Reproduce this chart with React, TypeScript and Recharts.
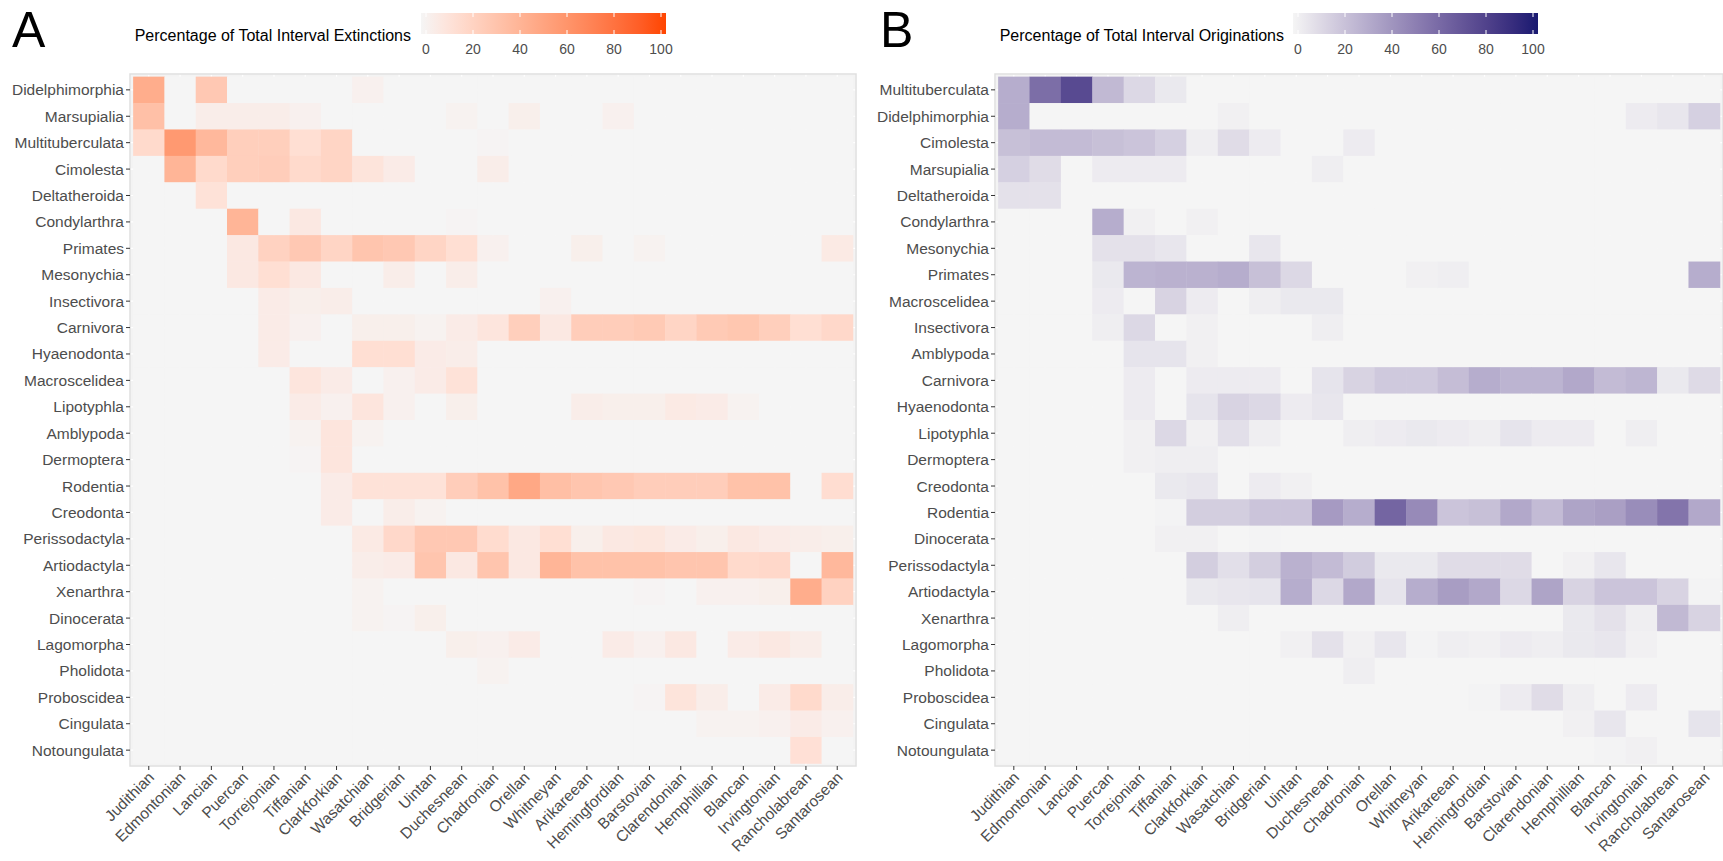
import React from 'react';
import { ScatterChart, Scatter, XAxis, YAxis, CartesianGrid, ReferenceArea } from 'recharts';

const intervals = [
  'Judithian', 'Edmontonian', 'Lancian', 'Puercan', 'Torrejonian', 'Tiffanian', 'Clarkforkian',
  'Wasatchian', 'Bridgerian', 'Uintan', 'Duchesnean', 'Chadronian', 'Orellan', 'Whitneyan',
  'Arikareean', 'Hemingfordian', 'Barstovian', 'Clarendonian', 'Hemphillian', 'Blancan',
  'Irvingtonian', 'Rancholabrean', 'Santarosean',
];

const ordersA = [
  'Didelphimorphia', 'Marsupialia', 'Multituberculata', 'Cimolesta', 'Deltatheroida', 'Condylarthra',
  'Primates', 'Mesonychia', 'Insectivora', 'Carnivora', 'Hyaenodonta', 'Macroscelidea', 'Lipotyphla',
  'Amblypoda', 'Dermoptera', 'Rodentia', 'Creodonta', 'Perissodactyla', 'Artiodactyla', 'Xenarthra',
  'Dinocerata', 'Lagomorpha', 'Pholidota', 'Proboscidea', 'Cingulata', 'Notoungulata',
];

const ordersB = [
  'Multituberculata', 'Didelphimorphia', 'Cimolesta', 'Marsupialia', 'Deltatheroida', 'Condylarthra',
  'Mesonychia', 'Primates', 'Macroscelidea', 'Insectivora', 'Amblypoda', 'Carnivora', 'Hyaenodonta',
  'Lipotyphla', 'Dermoptera', 'Creodonta', 'Rodentia', 'Dinocerata', 'Perissodactyla', 'Artiodactyla',
  'Xenarthra', 'Lagomorpha', 'Pholidota', 'Proboscidea', 'Cingulata', 'Notoungulata',
];

const legendTicks = [0, 20, 40, 60, 80, 100];

// % of total interval extinctions, one row per order (ordersA), one column per interval
const extinctions: number[][] = [
  [45, 0, 28, 0, 0, 0, 0, 3, 0, 0, 0, 0, 0, 0, 0, 0, 0, 0, 0, 0, 0, 0, 0],
  [33, 0, 5, 5, 5, 3, 0, 0, 0, 0, 2, 0, 4, 0, 0, 3, 0, 0, 0, 0, 0, 0, 0],
  [17, 57, 38, 24, 24, 14, 20, 0, 0, 0, 0, 1, 0, 0, 0, 0, 0, 0, 0, 0, 0, 0, 0],
  [0, 40, 17, 24, 25, 17, 20, 11, 6, 0, 0, 5, 0, 0, 0, 0, 0, 0, 0, 0, 0, 0, 0],
  [0, 0, 12, 0, 0, 0, 0, 0, 0, 0, 0, 0, 0, 0, 0, 0, 0, 0, 0, 0, 0, 0, 0],
  [0, 0, 0, 40, 0, 8, 0, 0, 0, 0, 1, 0, 0, 0, 0, 0, 0, 0, 0, 0, 0, 0, 0],
  [0, 0, 0, 8, 22, 28, 20, 30, 28, 20, 14, 3, 0, 0, 4, 0, 2, 0, 0, 0, 0, 0, 7],
  [0, 0, 0, 8, 14, 8, 0, 0, 5, 0, 5, 0, 0, 0, 0, 0, 0, 0, 0, 0, 0, 0, 0],
  [0, 0, 0, 0, 6, 4, 5, 0, 0, 0, 0, 0, 0, 3, 0, 0, 0, 0, 0, 0, 0, 0, 0],
  [0, 0, 0, 0, 6, 3, 0, 4, 4, 2, 6, 10, 24, 8, 25, 25, 27, 20, 27, 29, 24, 14, 18],
  [0, 0, 0, 0, 6, 0, 0, 14, 14, 6, 5, 0, 0, 0, 0, 0, 0, 0, 0, 0, 0, 0, 0],
  [0, 0, 0, 0, 0, 10, 6, 0, 3, 6, 12, 0, 0, 0, 0, 0, 0, 0, 0, 0, 0, 0, 0],
  [0, 0, 0, 0, 0, 6, 3, 10, 3, 0, 4, 0, 0, 0, 5, 4, 4, 7, 6, 2, 0, 0, 0],
  [0, 0, 0, 0, 0, 2, 10, 2, 0, 0, 0, 0, 0, 0, 0, 0, 0, 0, 0, 0, 0, 0, 0],
  [0, 0, 0, 0, 0, 1, 10, 0, 0, 0, 0, 0, 0, 0, 0, 0, 0, 0, 0, 0, 0, 0, 0],
  [0, 0, 0, 0, 0, 0, 6, 12, 12, 12, 25, 32, 48, 34, 30, 28, 25, 25, 25, 32, 32, 0, 15],
  [0, 0, 0, 0, 0, 0, 6, 0, 5, 2, 0, 0, 0, 0, 0, 0, 0, 0, 0, 0, 0, 0, 0],
  [0, 0, 0, 0, 0, 0, 0, 7, 18, 28, 28, 16, 8, 14, 4, 8, 9, 6, 4, 8, 6, 5, 4],
  [0, 0, 0, 0, 0, 0, 0, 5, 6, 30, 8, 30, 8, 40, 32, 32, 32, 30, 30, 17, 18, 0, 38],
  [0, 0, 0, 0, 0, 0, 0, 2, 0, 0, 0, 0, 0, 0, 0, 0, 1, 0, 3, 3, 4, 45, 22],
  [0, 0, 0, 0, 0, 0, 0, 2, 1, 4, 0, 0, 0, 0, 0, 0, 0, 0, 0, 0, 0, 0, 0],
  [0, 0, 0, 0, 0, 0, 0, 0, 0, 0, 4, 3, 6, 0, 0, 6, 3, 8, 0, 6, 8, 5, 0],
  [0, 0, 0, 0, 0, 0, 0, 0, 0, 0, 0, 2, 0, 0, 0, 0, 0, 0, 0, 0, 0, 0, 0],
  [0, 0, 0, 0, 0, 0, 0, 0, 0, 0, 0, 0, 0, 0, 0, 0, 1, 11, 5, 0, 6, 17, 5],
  [0, 0, 0, 0, 0, 0, 0, 0, 0, 0, 0, 0, 0, 0, 0, 0, 0, 0, 2, 2, 3, 6, 3],
  [0, 0, 0, 0, 0, 0, 0, 0, 0, 0, 0, 0, 0, 0, 0, 0, 0, 0, 0, 0, 0, 13, 0],
];

// % of total interval originations, one row per order (ordersB)
const originations: number[][] = [
  [30, 58, 75, 25, 12, 5, 0, 0, 0, 0, 0, 0, 0, 0, 0, 0, 0, 0, 0, 0, 0, 0, 0],
  [30, 0, 0, 0, 0, 0, 0, 2, 0, 0, 0, 0, 0, 0, 0, 0, 0, 0, 0, 0, 4, 6, 15],
  [22, 24, 24, 22, 20, 15, 3, 10, 4, 0, 0, 4, 0, 0, 0, 0, 0, 0, 0, 0, 0, 0, 0],
  [15, 10, 0, 4, 4, 4, 0, 0, 0, 0, 3, 0, 0, 0, 0, 0, 0, 0, 0, 0, 0, 0, 0],
  [8, 8, 0, 0, 0, 0, 0, 0, 0, 0, 0, 0, 0, 0, 0, 0, 0, 0, 0, 0, 0, 0, 0],
  [0, 0, 0, 30, 2, 0, 2, 0, 0, 0, 0, 0, 0, 0, 0, 0, 0, 0, 0, 0, 0, 0, 0],
  [0, 0, 0, 8, 8, 6, 0, 0, 6, 0, 0, 0, 0, 0, 0, 0, 0, 0, 0, 0, 0, 0, 0],
  [0, 0, 0, 5, 27, 28, 28, 30, 22, 12, 0, 0, 0, 2, 3, 0, 0, 0, 0, 0, 0, 0, 30],
  [0, 0, 0, 4, 0, 14, 4, 0, 3, 5, 5, 0, 0, 0, 0, 0, 0, 0, 0, 0, 0, 0, 0],
  [0, 0, 0, 3, 12, 0, 2, 0, 0, 0, 3, 0, 0, 0, 0, 0, 0, 0, 0, 0, 0, 0, 0],
  [0, 0, 0, 0, 7, 7, 2, 0, 0, 0, 0, 0, 0, 0, 0, 0, 0, 0, 0, 0, 0, 0, 0],
  [0, 0, 0, 0, 4, 0, 4, 4, 4, 0, 7, 14, 18, 18, 23, 30, 27, 27, 32, 24, 26, 5, 11],
  [0, 0, 0, 0, 4, 0, 7, 14, 12, 4, 6, 0, 0, 0, 0, 0, 0, 0, 0, 0, 0, 0, 0],
  [0, 0, 0, 0, 2, 12, 2, 9, 3, 0, 0, 3, 4, 5, 4, 3, 7, 4, 4, 0, 3, 0, 0],
  [0, 0, 0, 0, 2, 3, 3, 0, 0, 0, 0, 0, 0, 0, 0, 0, 0, 0, 0, 0, 0, 0, 0],
  [0, 0, 0, 0, 0, 5, 6, 0, 4, 2, 0, 0, 0, 0, 0, 0, 0, 0, 0, 0, 0, 0, 0],
  [0, 0, 0, 0, 0, 1, 16, 16, 20, 20, 38, 30, 62, 45, 20, 22, 32, 24, 34, 36, 44, 55, 32],
  [0, 0, 0, 0, 0, 2, 2, 0, 1, 0, 0, 0, 0, 0, 0, 0, 0, 0, 0, 0, 0, 0, 0],
  [0, 0, 0, 0, 0, 0, 16, 9, 16, 28, 24, 17, 5, 5, 10, 10, 10, 0, 2, 6, 0, 0, 0],
  [0, 0, 0, 0, 0, 0, 5, 6, 7, 30, 12, 32, 7, 30, 37, 32, 12, 34, 14, 20, 20, 14, 1],
  [0, 0, 0, 0, 0, 0, 0, 3, 0, 0, 0, 0, 0, 0, 0, 0, 0, 0, 5, 8, 3, 25, 14],
  [0, 0, 0, 0, 0, 0, 0, 0, 0, 2, 8, 2, 6, 1, 3, 2, 4, 3, 5, 6, 2, 0, 0],
  [0, 0, 0, 0, 0, 0, 0, 0, 0, 0, 0, 3, 0, 0, 0, 0, 0, 0, 0, 0, 0, 0, 0],
  [0, 0, 0, 0, 0, 0, 0, 0, 0, 0, 0, 0, 0, 0, 0, 1, 4, 10, 3, 0, 4, 0, 0],
  [0, 0, 0, 0, 0, 0, 0, 0, 0, 0, 0, 0, 0, 0, 0, 0, 0, 0, 2, 6, 0, 0, 7],
  [0, 0, 0, 0, 0, 0, 0, 0, 0, 0, 0, 0, 0, 0, 0, 0, 0, 0, 0, 1, 2, 0, 0],
];

const LOW = '#F5F5F5';
const FONT = '"Liberation Sans", Arial, sans-serif';
const TEXT = '#4D4D4D';

// --- colour helpers: interpolate in Lab like ggplot's scale_fill_gradient ---
const toLin = (c: number) => (c <= 0.04045 ? c / 12.92 : Math.pow((c + 0.055) / 1.055, 2.4));
const toSrgb = (c: number) => (c <= 0.0031308 ? 12.92 * c : 1.055 * Math.pow(c, 1 / 2.4) - 0.055);

function hexToLab(hex: string) {
  const n = parseInt(hex.slice(1), 16);
  const r = toLin(((n >> 16) & 255) / 255), g = toLin(((n >> 8) & 255) / 255), b = toLin((n & 255) / 255);
  const X = (0.4124 * r + 0.3576 * g + 0.1805 * b) / 0.95047;
  const Y = 0.2126 * r + 0.7152 * g + 0.0722 * b;
  const Z = (0.0193 * r + 0.1192 * g + 0.9505 * b) / 1.08883;
  const f = (t: number) => (t > 0.008856 ? Math.cbrt(t) : 7.787 * t + 16 / 116);
  const fx = f(X), fy = f(Y), fz = f(Z);
  return [116 * fy - 16, 500 * (fx - fy), 200 * (fy - fz)];
}

function labToHex([L, a, bb]: number[]) {
  const fy = (L + 16) / 116, fx = fy + a / 500, fz = fy - bb / 200;
  const inv = (f: number) => (f * f * f > 0.008856 ? f * f * f : (f - 16 / 116) / 7.787);
  const X = inv(fx) * 0.95047, Y = inv(fy), Z = inv(fz) * 1.08883;
  const rgb = [
    3.2406 * X - 1.5372 * Y - 0.4986 * Z,
    -0.9689 * X + 1.8758 * Y + 0.0415 * Z,
    0.0557 * X - 0.204 * Y + 1.057 * Z,
  ].map(c => Math.round(Math.min(1, Math.max(0, toSrgb(c))) * 255));
  return '#' + rgb.map(c => c.toString(16).padStart(2, '0')).join('');
}

function makeScale(high: string) {
  const lo = hexToLab(LOW), hi = hexToLab(high);
  return (v: number) => {
    const t = Math.min(1, Math.max(0, v / 100));
    return labToHex(lo.map((c, i) => c + (hi[i] - c) * t));
  };
}

const CHART_H = 861;
const M_TOP = 74;
const X_H = 95;
const Y_W = 130;

function Heatmap({ orders, values, high, width, right }: {
  orders: string[]; values: number[][]; high: string; width: number; right: number;
}) {
  const colour = makeScale(high);
  const data = values.flatMap((row, i) => row.map((v, j) => ({ x: j, y: i, v })));
  const cw = (width - Y_W - right) / (intervals.length - 1 + 1.2);
  const ch = (CHART_H - M_TOP - X_H) / (orders.length - 1 + 1.2);

  const XTick = ({ x, y, payload }: any) => (
    <g transform={`translate(${x},${y})`}>
      <text x={0} y={0} dy={9} textAnchor="end" transform="rotate(-45)" fill={TEXT}
        fontSize={15.5} fontFamily={FONT}>
        {intervals[payload.value]}
      </text>
    </g>
  );

  return (
    <ScatterChart width={width} height={CHART_H} margin={{ top: M_TOP, right, bottom: 0, left: 0 }}>
      <CartesianGrid fill="#F3F3F3" fillOpacity={1} stroke="#FFFFFF" strokeWidth={1.2} />
      <XAxis type="number" dataKey="x" domain={[-0.6, intervals.length - 0.4]} allowDataOverflow
        ticks={intervals.map((_, i) => i)} interval={0} height={X_H} axisLine={false}
        tickSize={4} tickLine={{ stroke: '#333333' }} tick={<XTick />} />
      <YAxis type="number" dataKey="y" domain={[-0.6, orders.length - 0.4]} allowDataOverflow reversed
        ticks={orders.map((_, i) => i)} interval={0} width={Y_W} axisLine={false}
        tickSize={4} tickLine={{ stroke: '#333333' }}
        tickFormatter={(i: number) => orders[i]}
        tick={{ fill: TEXT, fontSize: 15.5, fontFamily: FONT }} />
      <Scatter data={data} isAnimationActive={false}
        shape={(p: any) => (
          <rect x={p.cx - cw / 2} y={p.cy - ch / 2} width={cw + 0.4} height={ch + 0.4}
            fill={colour(p.payload.v)} />
        )} />
      <ReferenceArea x1={-0.6} x2={intervals.length - 0.4} y1={-0.6} y2={orders.length - 0.4}
        fill="none" stroke="#E0E0E0" strokeWidth={1.5} ifOverflow="visible" />
    </ScatterChart>
  );
}

function ColourLegend({ title, high, titleEnd, barX, id }: {
  title: string; high: string; titleEnd: number; barX: number; id: string;
}) {
  const colour = makeScale(high);
  const barW = 245;
  const stops = Array.from({ length: 11 }, (_, k) => k * 10);
  const pos = (v: number) => barX + 5 + (v / 100) * (barW - 10);
  return (
    <g fontFamily={FONT}>
      <defs>
        <linearGradient id={id} x1="0" x2="1" y1="0" y2="0">
          {stops.map(s => <stop key={s} offset={`${s}%`} stopColor={colour(s)} />)}
        </linearGradient>
      </defs>
      <text x={titleEnd} y={41} textAnchor="end" fontSize={16} fill="#000">{title}</text>
      <rect x={barX} y={13} width={barW} height={21} fill={`url(#${id})`} />
      {legendTicks.map(t => (
        <g key={t}>
          <line x1={pos(t)} x2={pos(t)} y1={13} y2={17} stroke="#FFFFFF" strokeWidth={1} />
          <line x1={pos(t)} x2={pos(t)} y1={30} y2={34} stroke="#FFFFFF" strokeWidth={1} />
          <text x={pos(t)} y={54} textAnchor="middle" fontSize={14} fill={TEXT}>{t}</text>
        </g>
      ))}
    </g>
  );
}

export default function App() {
  return (
    <div style={{ position: 'absolute', left: 0, top: 0, width: 1723, height: 861, background: '#FFFFFF', fontFamily: FONT }}>
      <div style={{ position: 'absolute', left: 0, top: 0 }}>
        <Heatmap orders={ordersA} values={extinctions} high="#FF4500" width={860} right={4} />
      </div>
      <div style={{ position: 'absolute', left: 865, top: 0 }}>
        <Heatmap orders={ordersB} values={originations} high="#191970" width={858} right={0} />
      </div>
      <svg width={1723} height={70} style={{ position: 'absolute', left: 0, top: 0, pointerEvents: 'none' }}>
        <text x={12} y={47} fontSize={50} fontFamily={FONT} fill="#000">A</text>
        <text x={880} y={47} fontSize={50} fontFamily={FONT} fill="#000">B</text>
        <ColourLegend id="gradA" title="Percentage of Total Interval Extinctions" high="#FF4500" titleEnd={411} barX={421} />
        <ColourLegend id="gradB" title="Percentage of Total Interval Originations" high="#191970" titleEnd={1284} barX={1293} />
      </svg>
    </div>
  );
}
